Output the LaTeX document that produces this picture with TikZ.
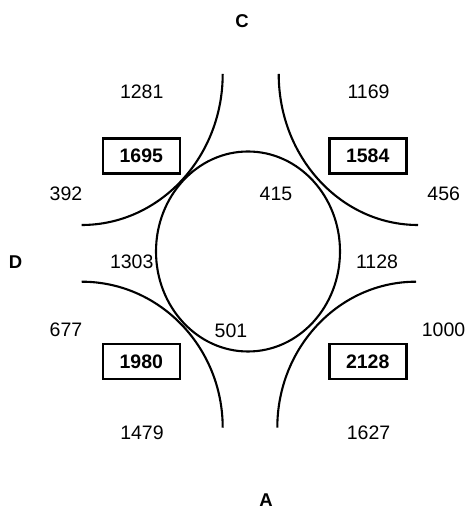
\documentclass[tikz,border=0pt]{standalone}
\usepackage{fontspec}
\setmainfont{Liberation Sans}
\begin{document}
\begin{tikzpicture}[x=1pt,y=1pt,
  lbl/.style={font=\fontsize{19.5}{19.5}\selectfont, inner sep=0pt},
  dir/.style={font=\fontsize{18.5}{18.5}\selectfont\bfseries, inner sep=0pt},
  boxed/.style={draw, line width=2.6pt, minimum width=77pt, minimum height=35pt, inner sep=0pt, font=\fontsize{19.5}{19.5}\selectfont\bfseries},
  curve/.style={line width=2.1pt}]
\useasboundingbox (0,0) rectangle (467,510);
% circle
\draw[curve] (248,258.5) ellipse [x radius=92, y radius=100];
% corner arcs
\coordinate (tl) at (222.7,436);
\coordinate (tr) at (278.7,436);
\coordinate (bl) at (222.7,82.3);
\coordinate (br) at (277.3,82.3);
\draw[curve] (tl) arc[start angle=0, end angle=-90, x radius=141, y radius=151];
\draw[curve] (tr) arc[start angle=180, end angle=270, x radius=139.3, y radius=151];
\draw[curve] (bl) arc[start angle=0, end angle=90, x radius=141, y radius=146];
\draw[curve] (br) arc[start angle=180, end angle=90, x radius=138.7, y radius=146];
% direction letters
\node[dir] (C) at (242,489) {C};
\node[dir] (A) at (266,10) {A};
\node[dir] (D) at (15.5,248) {D};
% boxes
\node[boxed] (b1695) at (141.3,354.2) {1695};
\node[boxed] (b1584) at (367.7,354.2) {1584};
\node[boxed] (b1980) at (141.3,148.5) {1980};
\node[boxed] (b2128) at (367.7,148.5) {2128};
% numbers
\node[lbl] (n1281) at (141.7,418.5) {1281};
\node[lbl] (n1169) at (368.5,418.5) {1169};
\node[lbl] (n392) at (66,316.5) {392};
\node[lbl] (n415) at (276,316) {415};
\node[lbl] (n456) at (443.7,316.5) {456};
\node[lbl] (n1303) at (131.7,248) {1303};
\node[lbl] (n1128) at (377,248) {1128};
\node[lbl] (n677) at (66,180) {677};
\node[lbl] (n501) at (231,179.3) {501};
\node[lbl] (n1000) at (443.5,180) {1000};
\node[lbl] (n1479) at (142,77.5) {1479};
\node[lbl] (n1627) at (368.5,77.5) {1627};
\end{tikzpicture}
\end{document}
